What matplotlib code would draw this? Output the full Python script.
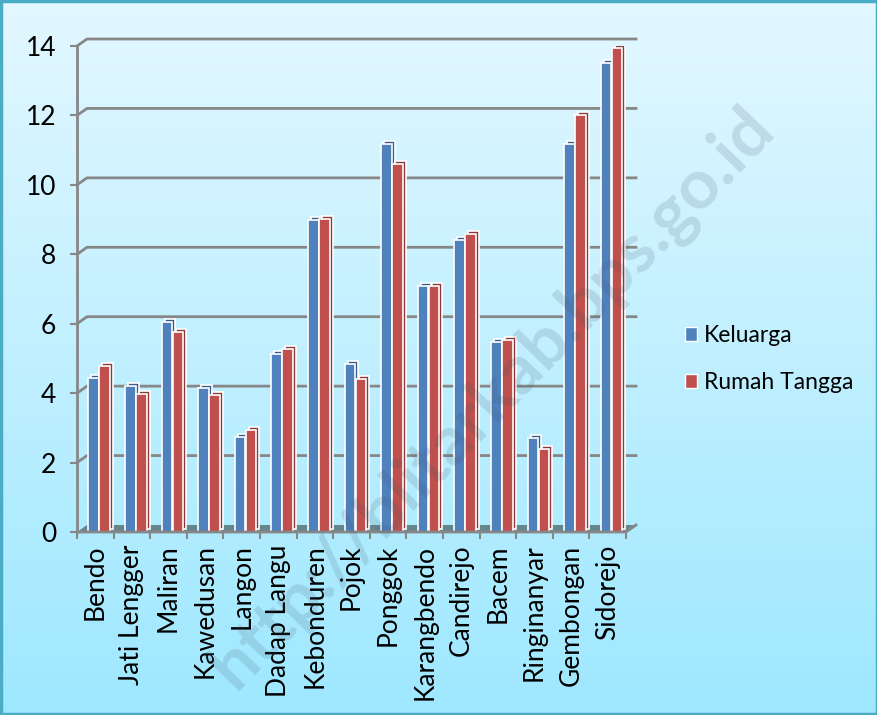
import numpy as np
import matplotlib
matplotlib.use('Agg')
import matplotlib.pyplot as plt
from matplotlib.patches import Rectangle, Polygon
from matplotlib.lines import Line2D

plt.rcParams['font.family'] = ['Lato', 'DejaVu Sans']

desa = ['Bendo', 'Jati Lengger', 'Maliran', 'Kawedusan', 'Langon', 'Dadap Langu',
        'Kebonduren', 'Pojok', 'Ponggok', 'Karangbendo', 'Candirejo', 'Bacem',
        'Ringinanyar', 'Gembongan', 'Sidorejo']
keluarga = [4.45, 4.2, 6.05, 4.15, 2.75, 5.12, 9.0, 4.83, 11.17, 7.1, 8.42, 5.48, 2.7, 11.18, 13.5]
rumah_tangga = [4.77, 3.97, 5.75, 3.95, 2.93, 5.28, 9.02, 4.41, 10.6, 7.08, 8.57, 5.53, 2.38, 12.0, 13.93]
yticks = [0, 2, 4, 6, 8, 10, 12, 14]

W, H, DPI = 878, 715, 100
fig = plt.figure(figsize=(W / DPI, H / DPI), dpi=DPI)

# background gradient + border
bg = fig.add_axes([0, 0, 1, 1], zorder=-10)
grad = np.linspace(0, 1, 256).reshape(-1, 1)
c_top = np.array([0.89, 0.97, 1.0])
c_bot = np.array([0.62, 0.91, 1.0])
img = c_top + (c_bot - c_top) * grad[:, :, None]
bg.imshow(img, aspect='auto', extent=[0, 1, 0, 1])
bg.set_xlim(0, 1)
bg.set_ylim(0, 1)
bg.axis('off')
fig.patches.append(Rectangle((0.001, 0.001), 0.998, 0.997, transform=fig.transFigure,
                             fill=False, edgecolor='#4bacc6', lw=2.5))

# plot area in pixels
x0, x1 = 77, 626
y0, y1 = 532, 46
ax = fig.add_axes([x0 / W, 1 - y0 / H, (x1 - x0) / W, (y0 - y1) / H])
ax.set_facecolor('none')
n = len(desa)
ax.set_xlim(0, n)
ax.set_ylim(0, 14)
for s in ax.spines.values():
    s.set_visible(False)

# depth offset (3d look) in data units
px_x = n / (x1 - x0)
px_y = 14 / (y0 - y1)
ddx, ddy = 10 * px_x, 7 * px_y

grid_c = '#878787'
# floor
ax.add_patch(Polygon([(0, 0), (n, 0), (n + ddx, ddy), (ddx, ddy)], closed=True,
                     facecolor='#66868e', edgecolor='none', zorder=1, clip_on=False))
# back wall gridlines
for v in yticks[1:]:
    ax.add_line(Line2D([0, ddx, n + ddx], [v, v + ddy, v + ddy], color=grid_c, lw=2,
                       zorder=0.5, clip_on=False))
# axes lines
ax.add_line(Line2D([0, 0], [0, 14], color=grid_c, lw=2, zorder=3, clip_on=False))
ax.add_line(Line2D([0, n, n + ddx], [0, 0, ddy], color=grid_c, lw=2, zorder=3, clip_on=False))

# bars
bw = 0.29
sx, sy = 3 * px_x, 3 * px_y
series = [(keluarga, 0.31, '#4f81bd', '#385d8a'),
          (rumah_tangga, 0.61, '#c0504d', '#8c3836')]
pos = np.arange(n)
for vals, off, col, dark in series:
    ax.bar(pos + off + sx, vals, width=bw, bottom=sy, align='edge', color=dark,
           edgecolor='white', lw=1.2, zorder=2)
for vals, off, col, dark in series:
    ax.bar(pos + off, vals, width=bw, align='edge', color=col,
           edgecolor='white', lw=1.2, zorder=2.5)

# ticks
fs = 19
ax.set_yticks(yticks)
ax.set_yticklabels([str(v) for v in yticks], fontsize=fs)
ax.set_xticks(np.arange(n + 1))
ax.set_xticklabels([])
ax.set_xticks(pos + 0.5, minor=True)
ax.set_xticklabels(desa, minor=True, rotation=90, va='top', ha='center', fontsize=fs)
ax.tick_params(axis='x', which='major', direction='out', length=5, width=1.5, color=grid_c)
ax.tick_params(axis='x', which='minor', length=0, pad=9, colors='black')
ax.tick_params(axis='y', direction='out', length=5, width=1.5, color=grid_c, pad=10)

# legend
handles = [Rectangle((0, 0), 1, 1, facecolor=c, edgecolor='white', lw=1)
           for c in ['#4f81bd', '#c0504d']]
fig.legend(handles, ['Keluarga', 'Rumah Tangga'], loc='center left',
           bbox_to_anchor=(664 / W, 1 - 359 / H), frameon=False, fontsize=16.5,
           handlelength=0.55, handleheight=0.55, handletextpad=0.3, labelspacing=1.15)

# watermark
fig.text(493 / W, 1 - 398 / H, 'http://blitarkab.bps.go.id', rotation=46,
         ha='center', va='center', fontsize=50, fontweight='bold',
         color='#405468', alpha=0.16, zorder=20)

fig.savefig('out.png', dpi=DPI)
